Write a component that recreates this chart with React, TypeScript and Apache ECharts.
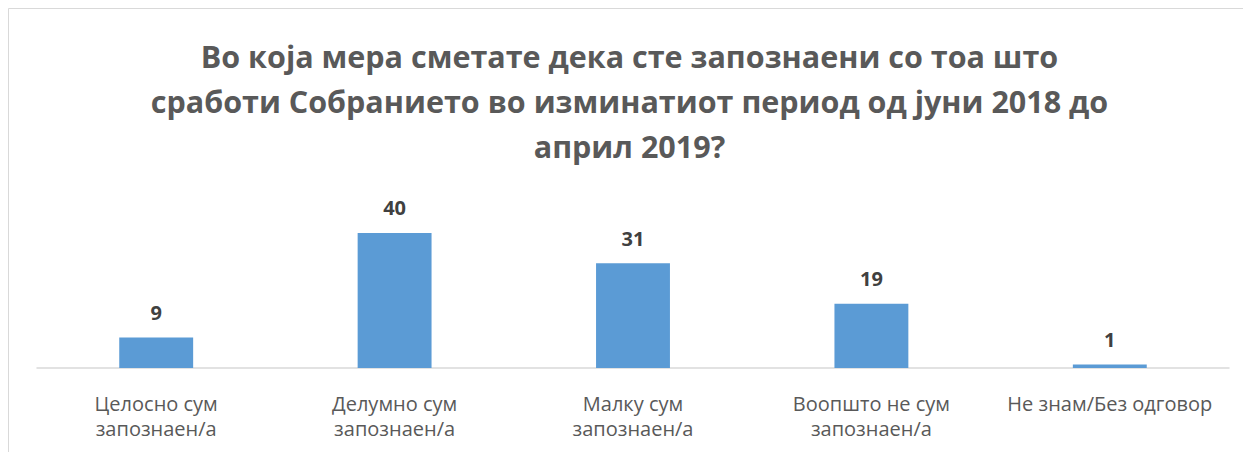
import React, { useEffect, useRef } from "react";
import * as echarts from "echarts";

const categories = [
  "Целосно сум\nзапознаен/а",
  "Делумно сум\nзапознаен/а",
  "Малку сум\nзапознаен/а",
  "Воопшто не сум\nзапознаен/а",
  "Не знам/Без одговор",
];
const values = [9, 40, 31, 19, 1];
const titleText =
  "Во која мера сметате дека сте запознаени со тоа што\nсработи Собранието во изминатиот период од јуни 2018 до\nаприл 2019?";

export default function App() {
  const ref = useRef<HTMLDivElement>(null);
  useEffect(() => {
    if (!ref.current) return;
    const chart = echarts.init(ref.current, null, { renderer: "svg" });
    chart.setOption({
      animation: false,
      backgroundColor: "#ffffff",
      title: {
        text: titleText,
        left: "center",
        top: 20,
        textStyle: {
          fontFamily: "Open Sans",
          fontWeight: "bold",
          fontSize: 30.5,
          lineHeight: 45,
          color: "#595959",
        },
      },
      graphic: [
        {
          type: "rect",
          shape: { x: 0.5, y: 0.5, width: 1400, height: 600 },
          style: { fill: "none", stroke: "#d9d9d9", lineWidth: 1 },
          silent: true,
        },
      ],
      grid: { left: 29, right: 22, top: 208, bottom: 84 },
      xAxis: {
        type: "category",
        data: categories,
        axisLine: { lineStyle: { color: "#d9d9d9", width: 1.5 } },
        axisTick: { show: false },
        axisLabel: {
          margin: 23,
          fontFamily: "Open Sans",
          fontSize: 20,
          lineHeight: 25,
          color: "#595959",
          interval: 0,
        },
      },
      yAxis: {
        type: "value",
        min: 0,
        max: 45,
        show: false,
        splitLine: { show: false },
      },
      series: [
        {
          type: "bar",
          data: values,
          barWidth: "31%",
          itemStyle: { color: "#5b9bd5" },
          label: {
            show: true,
            position: "top",
            distance: 15,
            fontFamily: "Open Sans",
            fontWeight: "bold",
            fontSize: 20,
            color: "#404040",
          },
        },
      ],
    });
    return () => chart.dispose();
  }, []);
  return <div ref={ref} style={{ width: 1243, height: 444 }} />;
}
